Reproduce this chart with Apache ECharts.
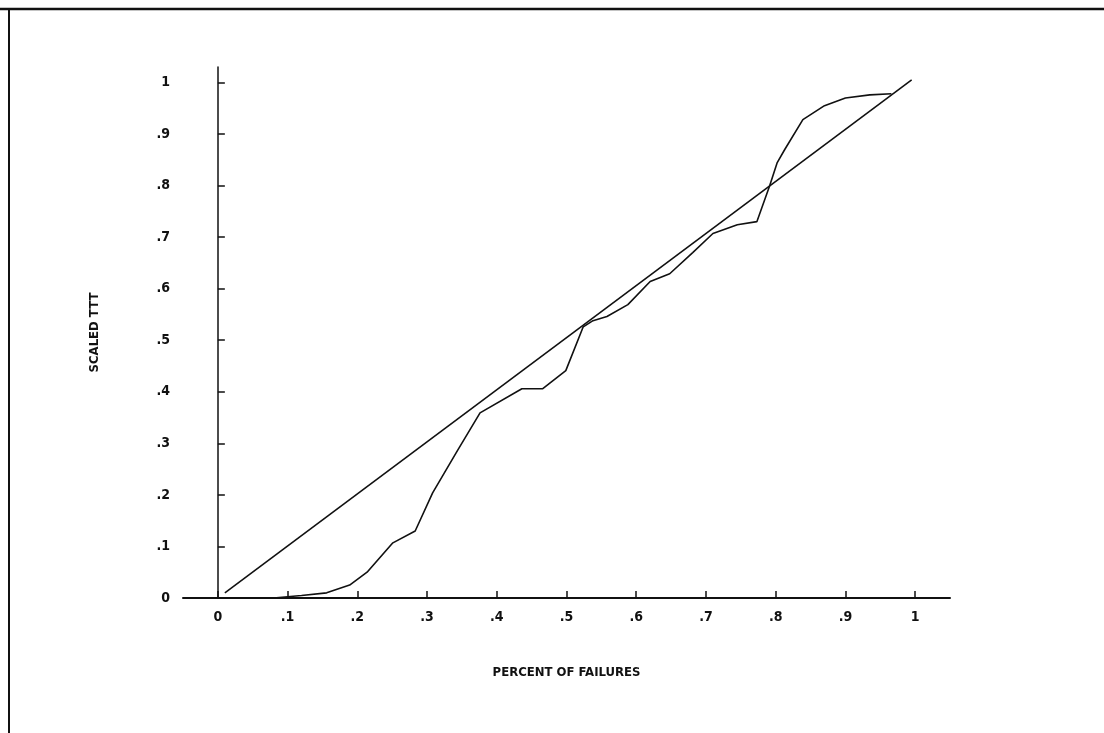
<!DOCTYPE html>
<html>
<head>
<meta charset="utf-8">
<style>html,body{margin:0;padding:0;background:#fff;}#chart{width:1104px;height:733px;}</style>
<script src="https://cdn.jsdelivr.net/npm/echarts@6/dist/echarts.min.js"></script>
</head>
<body>
<div id="chart"></div>
<script>
// Tick values / labels
var tickValues = [0, 0.1, 0.2, 0.3, 0.4, 0.5, 0.6, 0.7, 0.8, 0.9, 1];
var tickLabels = ['0', '.1', '.2', '.3', '.4', '.5', '.6', '.7', '.8', '.9', '1'];
var xTitle = 'PERCENT OF FAILURES';
var yTitle = 'SCALED TTT';
// Reference diagonal (percent of failures vs scaled TTT)
var diagX = [0.01, 0.995];
var diagY = [0.01, 1.005];
// Observed scaled TTT curve
var ttX = [0, 0.08, 0.12, 0.156, 0.189, 0.214, 0.251, 0.283, 0.308, 0.344, 0.376, 0.436, 0.466, 0.499, 0.524, 0.538, 0.558, 0.588, 0.620, 0.648, 0.681, 0.710, 0.745, 0.773, 0.791, 0.802, 0.813, 0.839, 0.87, 0.9, 0.935, 0.966];
var ttY = [0, 0, 0.005, 0.01, 0.025, 0.05, 0.107, 0.13, 0.204, 0.287, 0.359, 0.406, 0.406, 0.441, 0.526, 0.538, 0.546, 0.569, 0.614, 0.629, 0.670, 0.707, 0.724, 0.730, 0.798, 0.844, 0.870, 0.928, 0.955, 0.970, 0.976, 0.978];

function pairs(xs, ys) { return xs.map(function (x, i) { return [x, ys[i]]; }); }
function fmt(v) {
  for (var i = 0; i < tickValues.length; i++) if (Math.abs(v - tickValues[i]) < 1e-6) return tickLabels[i];
  return '';
}
var FONT = 'DejaVu Sans Condensed';
var chart = echarts.init(document.getElementById('chart'), null, {renderer: 'canvas'});
chart.setOption({
  animation: false,
  backgroundColor: '#ffffff',
  grid: {left: 183, top: 67, width: 767, height: 531, containLabel: false},
  xAxis: {
    type: 'value', min: -0.05, max: 1.05,
    splitLine: {show: false},
    axisLine: {onZero: true, lineStyle: {color: '#111', width: 2}},
    axisTick: {inside: true, length: 7, customValues: tickValues, lineStyle: {color: '#111', width: 1.5}},
    axisLabel: {customValues: tickValues, formatter: fmt, margin: 12, color: '#111', fontFamily: FONT, fontWeight: 'bold', fontSize: 14},
    name: xTitle, nameLocation: 'middle', nameGap: 68,
    nameTextStyle: {color: '#111', fontFamily: FONT, fontWeight: 'bold', fontSize: 13}
  },
  yAxis: {
    type: 'value', min: 0, max: 1.03,
    splitLine: {show: false},
    axisLine: {onZero: true, lineStyle: {color: '#111', width: 1.5}},
    axisTick: {inside: true, length: 7, customValues: tickValues, lineStyle: {color: '#111', width: 1.5}},
    axisLabel: {customValues: tickValues, formatter: fmt, margin: 13, color: '#111', fontFamily: FONT, fontWeight: 'bold', fontSize: 14},
    name: yTitle, nameLocation: 'middle', nameGap: 82, nameRotate: 90,
    nameTextStyle: {color: '#111', fontFamily: FONT, fontWeight: 'bold', fontSize: 13}
  },
  graphic: [
    {type: 'line', shape: {x1: 0, y1: 9, x2: 1104, y2: 9}, style: {stroke: '#111', lineWidth: 2.5}},
    {type: 'line', shape: {x1: 9, y1: 9, x2: 9, y2: 733}, style: {stroke: '#111', lineWidth: 2}}
  ],
  series: [
    {type: 'line', data: pairs(diagX, diagY), symbol: 'none', lineStyle: {color: '#111', width: 1.6}},
    {type: 'line', data: pairs(ttX, ttY), symbol: 'none', lineStyle: {color: '#111', width: 1.6}}
  ]
});
</script>
</body>
</html>
